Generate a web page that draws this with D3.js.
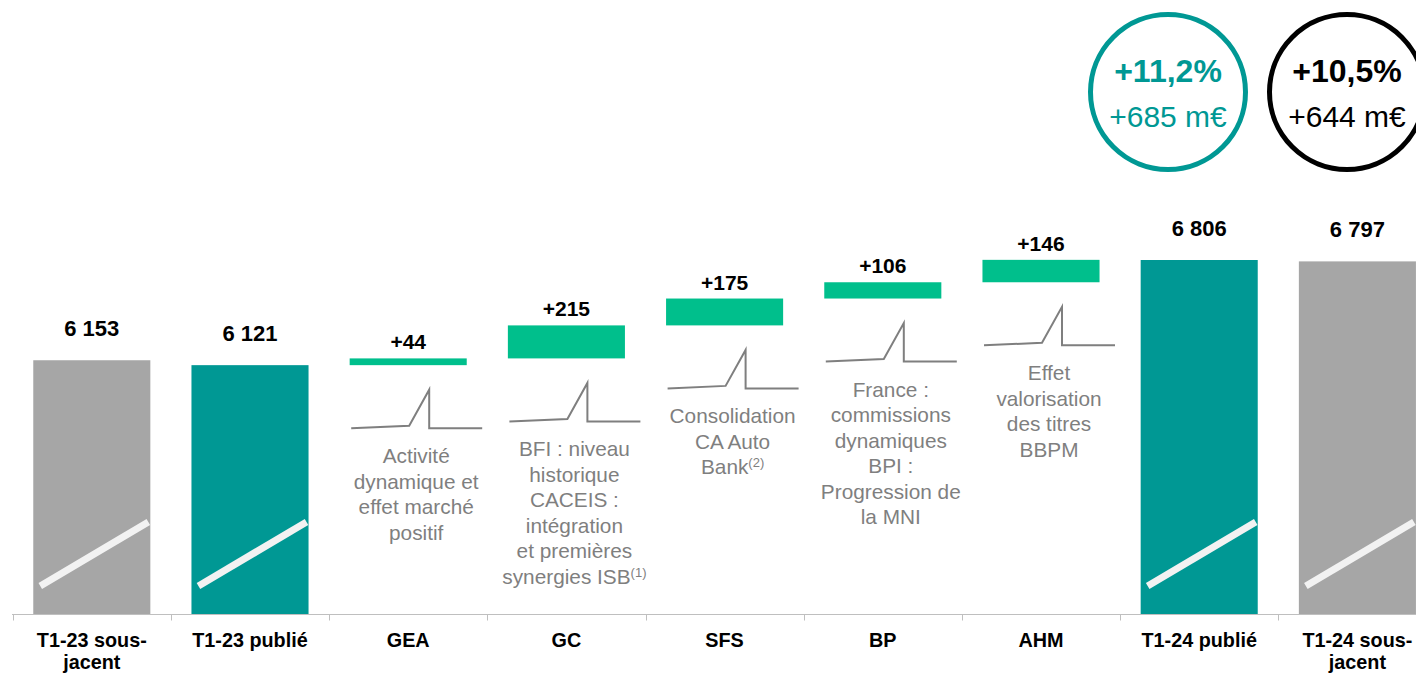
<!DOCTYPE html>
<html>
<head>
<meta charset="utf-8">
<script src="https://cdn.jsdelivr.net/npm/d3@7"></script>
<style>
  html, body { margin: 0; padding: 0; background: #fff; }
  svg { display: block; font-family: "Liberation Sans", Arial, sans-serif; }
</style>
</head>
<body>
<svg id="chart" width="1416" height="673"></svg>
<script>
// ---- Data ----
const categories = ["T1-23 sous-jacent", "T1-23 publié", "GEA", "GC", "SFS", "BP", "AHM", "T1-24 publié", "T1-24 sous-jacent"];
const categoryLines = [["T1-23 sous-", "jacent"], ["T1-23 publié"], ["GEA"], ["GC"], ["SFS"], ["BP"], ["AHM"], ["T1-24 publié"], ["T1-24 sous-", "jacent"]];
const kinds = ["underlying", "published", "delta", "delta", "delta", "delta", "delta", "published", "underlying"];
const values = [6153, 6121, 44, 215, 175, 106, 146, 6806, 6797];
const valueLabels = ["6 153", "6 121", "+44", "+215", "+175", "+106", "+146", "6 806", "6 797"];
const descriptions = [
  null, null,
  ["Activité", "dynamique et", "effet marché", "positif"],
  ["BFI : niveau", "historique", "CACEIS :", "intégration", "et premières", "synergies ISB^(1)"],
  ["Consolidation", "CA Auto", "Bank^(2)"],
  ["France :", "commissions", "dynamiques", "BPI :", "Progression de", "la MNI"],
  ["Effet", "valorisation", "des titres", "BBPM"],
  null, null
];
const badgePct = ["+11,2%", "+10,5%"];
const badgeAbs = ["+685 m€", "+644 m€"];
const yDomain = [4500, 6806];

// ---- Styles ----
const colors = { underlying: "#A6A6A6", published: "#009894", delta: "#00BF8C" };
const badgeColors = ["#009894", "#000000"];
const textGray = "#7F7F7F";

const svg = d3.select("#chart");

const x = d3.scaleBand().domain(categories).range([12.7, 1436.5]).paddingInner(0.26).paddingOuter(0.13);
const y = d3.scaleLinear().domain(yDomain).range([614, 260]);
const step = x.step();
const bw = x.bandwidth();

// compute waterfall geometry
let running = values[1];
const bars = categories.map((c, i) => {
  let y0, y1;
  if (kinds[i] === "delta") {
    y0 = running; y1 = running + values[i]; running = y1;
  } else {
    y0 = yDomain[0]; y1 = values[i];
  }
  return { c, i, kind: kinds[i], y0, y1, label: valueLabels[i], desc: descriptions[i] };
});

// bars
svg.append("g").selectAll("rect").data(bars).join("rect")
  .attr("x", d => x(d.c))
  .attr("y", d => y(d.y1))
  .attr("width", bw)
  .attr("height", d => y(d.y0) - y(d.y1))
  .attr("fill", d => colors[d.kind]);

// axis break slashes on totals
svg.append("g").selectAll("line").data(bars.filter(d => d.kind !== "delta")).join("line")
  .attr("x1", d => x(d.c) + 7).attr("y1", y(yDomain[0]) - 28)
  .attr("x2", d => x(d.c) + bw - 2).attr("y2", y(yDomain[0]) - 92)
  .attr("stroke", "#F2F2F2").attr("stroke-width", 7);

// value labels
svg.append("g").selectAll("text").data(bars).join("text")
  .attr("x", d => x(d.c) + bw / 2)
  .attr("y", d => y(d.y1) - (d.kind === "delta" ? 9 : 24))
  .attr("text-anchor", "middle")
  .attr("font-weight", "bold")
  .attr("font-size", d => d.kind === "delta" ? 21 : 22)
  .attr("fill", "#000")
  .text(d => d.label);

// annotations (spike icon + description)
const ann = svg.append("g").selectAll("g").data(bars.filter(d => d.desc)).join("g")
  .attr("transform", d => `translate(${x(d.c) + bw / 2},${y(d.y0) + 63})`);
ann.append("path")
  .attr("d", "M-57,0 L1,-2.5 L21,-38.5 L21,0 L74,0")
  .attr("fill", "none").attr("stroke", "#7F7F7F").attr("stroke-width", 2)
  .attr("stroke-linejoin", "miter");
ann.each(function(d) {
  const g = d3.select(this);
  d.desc.forEach((line, k) => {
    const parts = line.split("^");
    const t = g.append("text")
      .attr("x", 8).attr("y", 35 + k * 25.5)
      .attr("text-anchor", "middle")
      .attr("font-size", 20.8)
      .attr("fill", textGray);
    t.append("tspan").text(parts[0]);
    if (parts[1]) {
      t.append("tspan").attr("font-size", 13).attr("dy", -7).text(parts[1]);
    }
  });
});

// x axis
const axisY = y(yDomain[0]) + 0.5;
svg.append("line").attr("x1", 12).attr("x2", 1416).attr("y1", axisY).attr("y2", axisY)
  .attr("stroke", "#BFBFBF").attr("stroke-width", 1.2);
svg.append("g").selectAll("line").data(categories).join("line")
  .attr("x1", d => Math.round(x(d) - (step - bw) / 2) + 0.5)
  .attr("x2", d => Math.round(x(d) - (step - bw) / 2) + 0.5)
  .attr("y1", axisY).attr("y2", axisY + 6)
  .attr("stroke", "#BFBFBF").attr("stroke-width", 1);

const catText = svg.append("g").selectAll("text").data(categories).join("text")
  .attr("text-anchor", "middle")
  .attr("font-weight", "bold")
  .attr("font-size", 19.8)
  .attr("fill", "#000");
catText.each(function(d, i) {
  const t = d3.select(this);
  categoryLines[i].forEach((l, k) => {
    t.append("tspan").attr("x", x(d) + bw / 2).attr("y", 647 + k * 21.5).text(l);
  });
});

// badges
const badgeCx = [1168, 1347];
const badges = svg.append("g").selectAll("g").data(badgePct).join("g")
  .attr("transform", (d, i) => `translate(${badgeCx[i]},92)`);
badges.append("circle").attr("r", 77.5).attr("fill", "none")
  .attr("stroke", (d, i) => badgeColors[i]).attr("stroke-width", 5);
badges.append("text").attr("y", -10).attr("text-anchor", "middle")
  .attr("font-weight", "bold").attr("font-size", 32)
  .attr("fill", (d, i) => badgeColors[i]).text(d => d);
badges.append("text").attr("y", 35).attr("text-anchor", "middle")
  .attr("font-size", 30)
  .attr("fill", (d, i) => badgeColors[i]).text((d, i) => badgeAbs[i]);
</script>
</body>
</html>
